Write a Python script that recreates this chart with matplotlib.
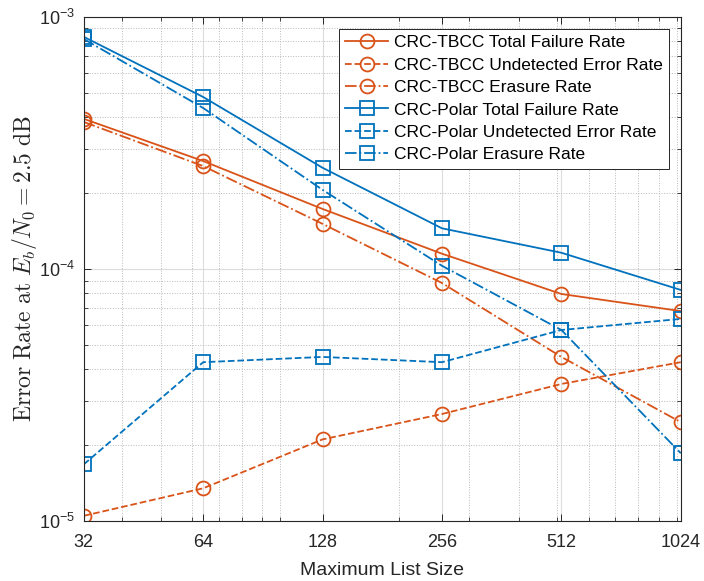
import matplotlib
matplotlib.use("Agg")
import matplotlib.pyplot as plt
from matplotlib.ticker import FixedLocator, NullFormatter

plt.rcParams['font.family'] = ['Liberation Sans', 'DejaVu Sans']
plt.rcParams['mathtext.fontset'] = 'cm'

list_sizes = [32, 64, 128, 256, 512, 1024]

# CRC-TBCC
tbcc_total = [3.94e-4, 2.68e-4, 1.73e-4, 1.15e-4, 7.96e-5, 6.81e-5]
tbcc_undetected = [1.05e-5, 1.35e-5, 2.11e-5, 2.66e-5, 3.50e-5, 4.27e-5]
tbcc_erasure = [3.83e-4, 2.56e-4, 1.51e-4, 8.80e-5, 4.48e-5, 2.47e-5]

# CRC-Polar
polar_total = [8.33e-4, 4.81e-4, 2.52e-4, 1.45e-4, 1.16e-4, 8.26e-5]
polar_undetected = [1.68e-5, 4.27e-5, 4.48e-5, 4.27e-5, 5.73e-5, 6.34e-5]
polar_erasure = [8.17e-4, 4.35e-4, 2.06e-4, 1.03e-4, 5.73e-5, 1.86e-5]

orange = '#D95319'
blue = '#0072BD'

fig = plt.figure(figsize=(7.04, 5.81), dpi=100)
ax = fig.add_axes([0.119, 0.103, 0.848, 0.868])

mk = dict(markersize=10, markerfacecolor='none', markeredgewidth=1.3, linewidth=1.3)
ax.plot(list_sizes, tbcc_total, '-o', color=orange, label='CRC-TBCC Total Failure Rate', **mk)
ax.plot(list_sizes, tbcc_undetected, '--o', color=orange, label='CRC-TBCC Undetected Error Rate', **mk)
ax.plot(list_sizes, tbcc_erasure, '-.o', color=orange, label='CRC-TBCC Erasure Rate', **mk)
ax.plot(list_sizes, polar_total, '-s', color=blue, label='CRC-Polar Total Failure Rate', **mk)
ax.plot(list_sizes, polar_undetected, '--s', color=blue, label='CRC-Polar Undetected Error Rate', **mk)
ax.plot(list_sizes, polar_erasure, '-.s', color=blue, label='CRC-Polar Erasure Rate', **mk)

ax.set_xscale('log', base=2)
ax.set_yscale('log')
ax.set_xlim(32, 1024)
ax.set_ylim(1e-5, 1e-3)

ax.xaxis.set_major_locator(FixedLocator(list_sizes))
ax.set_xticklabels([str(v) for v in list_sizes])
x_minor = [40, 50, 60, 70, 80, 90, 100, 200, 300, 400, 500, 600, 700, 800, 900, 1000]
ax.xaxis.set_minor_locator(FixedLocator(x_minor))
ax.xaxis.set_minor_formatter(NullFormatter())

ax.yaxis.set_major_locator(FixedLocator([1e-5, 1e-4, 1e-3]))
ax.set_yticklabels([r'$\mathregular{10^{-5}}$', r'$\mathregular{10^{-4}}$', r'$\mathregular{10^{-3}}$'])
y_minor = [m * 10.0 ** e for e in (-5, -4) for m in range(2, 10)]
ax.yaxis.set_minor_locator(FixedLocator(y_minor))
ax.yaxis.set_minor_formatter(NullFormatter())

ax.grid(True, which='major', color='#dcdcdc', linestyle='-', linewidth=0.8)
ax.grid(True, which='minor', color='#b8b8b8', linestyle=':', linewidth=0.7)
ax.set_axisbelow(True)

ax.tick_params(which='both', direction='in', top=True, right=True, colors='#262626', labelsize=13)
ax.tick_params(which='major', length=5, width=0.7)
ax.tick_params(which='minor', length=3, width=0.6)
ax.tick_params(axis='x', which='major', pad=9)
ax.tick_params(axis='y', which='major', pad=6)
for s in ax.spines.values():
    s.set_color('#262626')
    s.set_linewidth(0.8)

ax.set_xlabel('Maximum List Size', fontsize=14, color='#262626', labelpad=8)
ax.set_ylabel(r'$\mathrm{Error\ Rate\ at}\ E_b/N_0 = 2.5\ \mathrm{dB}$', fontsize=17, color='#262626',
              labelpad=0)

leg = ax.legend(loc='upper right', fontsize=12.5, fancybox=False, framealpha=1,
                edgecolor='#262626', handlelength=2.5, labelspacing=0.42,
                borderaxespad=0.7, handletextpad=0.3, borderpad=0.35)
leg.get_frame().set_linewidth(0.7)

fig.savefig('out.png', dpi=100)
